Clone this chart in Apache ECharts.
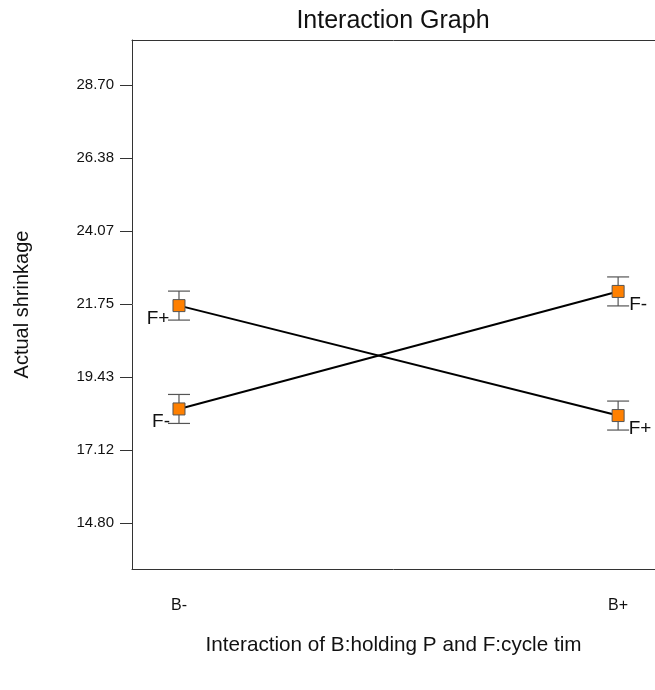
<!DOCTYPE html>
<html lang="en">
<head>
    <meta charset="UTF-8">
    <title>Interaction Graph</title>
    <style>
        html, body { margin: 0; padding: 0; background: #fff; }
    </style>
</head>
<body>
<div id="main" style="width: 655px;height:690px;"></div>
<script src="https://cdn.jsdelivr.net/npm/echarts@6/dist/echarts.min.js"></script>
<script>
    // B levels on the x axis
    var levels = ['B-', 'B+'];
    var levelPos = [0, 1];
    // means at B- and B+ for each F level
    var fMinus = [18.42, 22.15];
    var fPlus = [21.70, 18.21];
    // half width of the error bars
    var errHalf = [0.46, 0.46];
    var yTicks = [14.80, 17.12, 19.43, 21.75, 24.07, 26.38, 28.70];

    var font = 'Liberation Sans, Arial, sans-serif';

    function pts(vals) {
        return vals.map(function (v, i) { return [levelPos[i], v]; });
    }

    // error bars for both series, drawn through the axes
    var barData = [];
    [fMinus, fPlus].forEach(function (s) {
        s.forEach(function (v, i) {
            barData.push([levelPos[i], v - errHalf[i], v + errHalf[i]]);
        });
    });

    function renderBar(params, api) {
        var x = api.value(0);
        var lo = api.coord([x, api.value(1)]);
        var hi = api.coord([x, api.value(2)]);
        var w = 11;
        var st = { stroke: '#555', lineWidth: 1.2 };
        return {
            type: 'group',
            children: [
                { type: 'line', shape: { x1: lo[0], y1: lo[1], x2: hi[0], y2: hi[1] }, style: st },
                { type: 'line', shape: { x1: lo[0] - w, y1: lo[1], x2: lo[0] + w, y2: lo[1] }, style: st },
                { type: 'line', shape: { x1: hi[0] - w, y1: hi[1], x2: hi[0] + w, y2: hi[1] }, style: st }
            ]
        };
    }

    function labelled(vals, name, offsets) {
        return pts(vals).map(function (p, i) {
            return {
                value: p,
                label: {
                    show: true,
                    formatter: name,
                    position: 'inside',
                    offset: offsets[i],
                    color: '#111',
                    fontSize: 19,
                    fontFamily: font
                }
            };
        });
    }

    var myChart = echarts.init(document.getElementById('main'));
    var option = {
        backgroundColor: '#fff',
        animation: false,
        title: {
            text: 'Interaction Graph',
            left: 388,
            top: 4,
            textAlign: 'center',
            textStyle: { fontSize: 25, fontWeight: 'normal', color: '#111', fontFamily: font }
        },
        grid: {
            left: 132, right: 0, top: 40, bottom: 121,
            show: false
        },
        xAxis: [{
            type: 'value',
            min: -0.107,
            max: 1.084,
            name: 'Interaction of B:holding P and F:cycle tim',
            nameLocation: 'middle',
            nameGap: 66,
            nameTextStyle: { fontSize: 20.7, color: '#111', fontFamily: font },
            axisLine: { show: true, onZero: false, lineStyle: { color: '#333' } },
            axisTick: { show: false },
            splitLine: { show: false },
            axisLabel: {
                customValues: levelPos,
                margin: 29,
                fontSize: 16,
                color: '#111',
                fontFamily: font,
                formatter: function (v) { return levels[levelPos.indexOf(v)]; }
            }
        }, {
            type: 'value',
            position: 'top',
            min: -0.107,
            max: 1.084,
            axisLine: { show: true, onZero: false, lineStyle: { color: '#333' } },
            axisTick: { show: false },
            axisLabel: { show: false },
            splitLine: { show: false }
        }],
        yAxis: {
            type: 'value',
            min: 13.34,
            max: 30.13,
            name: 'Actual shrinkage',
            nameLocation: 'middle',
            nameGap: 100,
            nameTextStyle: { fontSize: 20, color: '#111', fontFamily: font },
            axisLine: { show: true, onZero: false, lineStyle: { color: '#333' } },
            axisTick: { show: true, length: 12, customValues: yTicks, lineStyle: { color: '#333' } },
            splitLine: { show: false },
            axisLabel: {
                customValues: yTicks,
                margin: 18,
                fontSize: 15,
                color: '#111',
                fontFamily: font,
                formatter: function (v) { return v.toFixed(2); }
            }
        },
        series: [
            {
                type: 'custom',
                renderItem: renderBar,
                data: barData,
                z: 1
            },
            {
                name: 'F-',
                type: 'line',
                data: labelled(fMinus, 'F-', [[-18, 13], [20, 13]]),
                symbol: 'rect',
                symbolSize: 12,
                lineStyle: { color: '#000', width: 2 },
                itemStyle: { color: '#ff8000', borderColor: '#555', borderWidth: 1 },
                z: 3
            },
            {
                name: 'F+',
                type: 'line',
                data: labelled(fPlus, 'F+', [[-21, 13], [22, 13]]),
                symbol: 'rect',
                symbolSize: 12,
                lineStyle: { color: '#000', width: 2 },
                itemStyle: { color: '#ff8000', borderColor: '#555', borderWidth: 1 },
                z: 3
            }
        ]
    };
    myChart.setOption(option);
</script>
</body>
</html>
